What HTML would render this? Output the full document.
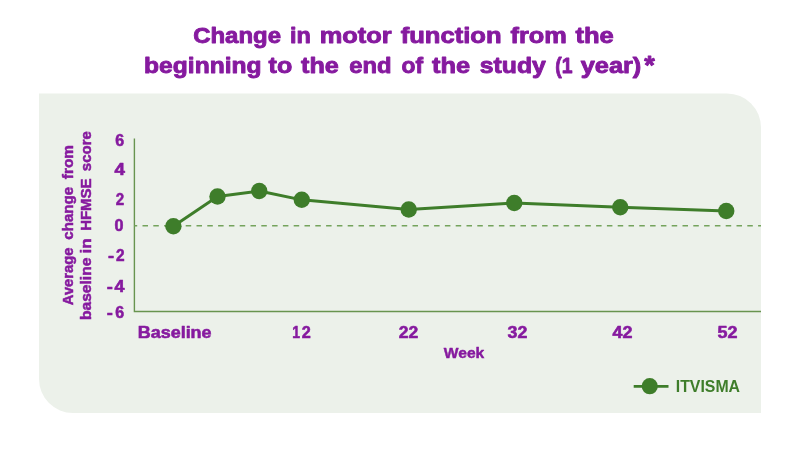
<!DOCTYPE html>
<html lang="en">
<head>
<meta charset="utf-8">
<title>Change in motor function from the beginning to the end of the study</title>
<style>
html,body{margin:0;padding:0;background:#fff;}
body{width:800px;height:453px;overflow:hidden;position:relative;}
svg{display:block;position:absolute;left:0;top:0;}
text{font-family:"Liberation Sans",Arial,Helvetica,sans-serif;font-weight:bold;stroke-linejoin:round;}
.p{fill:#861a9f;stroke:#861a9f;}
.g{fill:#3e7d2a;stroke:#3e7d2a;}
</style>
</head>
<body>
<svg width="800" height="453" viewBox="0 0 800 453">
  <path d="M39 93.5 H727 A34 34 0 0 1 761 127.5 V413 H73 A34 34 0 0 1 39 379 Z" fill="#ecf1ea"/>
  <path d="M134.4 138.5 V311.5 H761" fill="none" stroke="#68944f" stroke-width="1.4"/>
  <path d="M134.4 225.7 H761" fill="none" stroke="#74a35c" stroke-width="1.4" stroke-dasharray="5.5 5.3" stroke-dashoffset="2.7"/>
  <polyline points="173.4,226.2 217.5,196.5 259.25,191 301.75,199.8 408.75,209.5 514.25,203 620.25,207.3 726.25,211" fill="none" stroke="#3e7d2a" stroke-width="2.9" stroke-linejoin="round"/>
  <g fill="#3e7d2a">
    <circle cx="173.4" cy="226.2" r="8.2"/>
    <circle cx="217.5" cy="196.5" r="8.2"/>
    <circle cx="259.25" cy="191" r="8.2"/>
    <circle cx="301.75" cy="199.8" r="8.2"/>
    <circle cx="408.75" cy="209.5" r="8.2"/>
    <circle cx="514.25" cy="203" r="8.2"/>
    <circle cx="620.25" cy="207.3" r="8.2"/>
    <circle cx="726.25" cy="211" r="8.2"/>
  </g>
  <path d="M633.7 386.3 H668.5" stroke="#3e7d2a" stroke-width="2.8" fill="none"/>
  <circle fill="#3e7d2a" cx="649.75" cy="386.2" r="8.1"/>
  <text class="p" font-size="22.4" stroke-width="0.9" y="43"><tspan x="193.2" textLength="87.83" lengthAdjust="spacingAndGlyphs">Change</tspan> <tspan x="290" textLength="20.86" lengthAdjust="spacingAndGlyphs">in</tspan> <tspan x="319.71" textLength="72.01" lengthAdjust="spacingAndGlyphs">motor</tspan> <tspan x="400.7" textLength="100.87" lengthAdjust="spacingAndGlyphs">function</tspan> <tspan x="510.45" textLength="56.38" lengthAdjust="spacingAndGlyphs">from</tspan> <tspan x="575.45" textLength="38.37" lengthAdjust="spacingAndGlyphs">the</tspan></text>
  <text class="p" font-size="22.4" stroke-width="0.9" y="73.3"><tspan x="144.1" textLength="117.44" lengthAdjust="spacingAndGlyphs">beginning</tspan> <tspan x="268.55" textLength="23.66" lengthAdjust="spacingAndGlyphs">to</tspan> <tspan x="301.05" textLength="37.76" lengthAdjust="spacingAndGlyphs">the</tspan> <tspan x="349.2" textLength="42.32" lengthAdjust="spacingAndGlyphs">end</tspan> <tspan x="401.45" textLength="21.55" lengthAdjust="spacingAndGlyphs">of</tspan> <tspan x="431.95" textLength="38.11" lengthAdjust="spacingAndGlyphs">the</tspan> <tspan x="479.85" textLength="66" lengthAdjust="spacingAndGlyphs">study</tspan> <tspan x="555.18" textLength="17.26" lengthAdjust="spacingAndGlyphs">(1</tspan> <tspan x="580.7" textLength="60.62" lengthAdjust="spacingAndGlyphs">year)</tspan><tspan x="644.2" dy="1" font-size="25.5" textLength="10.52" lengthAdjust="spacingAndGlyphs">*</tspan></text>
  <text class="p" font-size="14.8" stroke-width="0.5" transform="translate(72.5 0) rotate(-90)" y="0"><tspan x="-305.15" textLength="57.53" lengthAdjust="spacingAndGlyphs">Average</tspan> <tspan x="-239.65" textLength="52.73" lengthAdjust="spacingAndGlyphs">change</tspan> <tspan x="-179.15" textLength="34.16" lengthAdjust="spacingAndGlyphs">from</tspan></text>
  <text class="p" font-size="14.8" stroke-width="0.5" transform="translate(91.3 0) rotate(-90)" y="0"><tspan x="-320" textLength="62.39" lengthAdjust="spacingAndGlyphs">baseline</tspan> <tspan x="-253.51" textLength="15.31" lengthAdjust="spacingAndGlyphs">in</tspan> <tspan x="-230.85" textLength="52.37" lengthAdjust="spacingAndGlyphs">HFMSE</tspan> <tspan x="-171.15" textLength="40.03" lengthAdjust="spacingAndGlyphs">score</tspan></text>
  <text class="p" font-size="16.2" stroke-width="0.55" y="337.5"><tspan x="137.66" textLength="73.96" lengthAdjust="spacingAndGlyphs">Baseline</tspan></text>
  <text class="p" font-size="15.9" stroke-width="0.55" y="337.6"><tspan x="292.29" textLength="7.79" lengthAdjust="spacingAndGlyphs">1</tspan><tspan x="301.77" textLength="9.03" lengthAdjust="spacingAndGlyphs">2</tspan></text>
  <text class="p" font-size="15.9" stroke-width="0.55" y="337.6"><tspan x="398.77" textLength="19.47" lengthAdjust="spacingAndGlyphs">22</tspan></text>
  <text class="p" font-size="15.9" stroke-width="0.55" y="337.6"><tspan x="507.52" textLength="19.77" lengthAdjust="spacingAndGlyphs">32</tspan></text>
  <text class="p" font-size="15.9" stroke-width="0.55" y="337.6"><tspan x="612.57" textLength="19.97" lengthAdjust="spacingAndGlyphs">42</tspan></text>
  <text class="p" font-size="15.9" stroke-width="0.55" y="337.6"><tspan x="717.57" textLength="19.97" lengthAdjust="spacingAndGlyphs">52</tspan></text>
  <text class="p" font-size="14.4" stroke-width="0.45" y="357.8"><tspan x="443.83" textLength="40.47" lengthAdjust="spacingAndGlyphs">Week</tspan></text>
  <text class="g" font-size="16.1" stroke-width="0" y="392"><tspan x="675.77" textLength="64.26" lengthAdjust="spacingAndGlyphs">ITVISMA</tspan></text>
  <text class="p" font-size="15.9" stroke-width="0.55" y="146.1"><tspan x="115.18" textLength="8.89" lengthAdjust="spacingAndGlyphs">6</tspan></text>
  <text class="p" font-size="15.9" stroke-width="0.55" y="174.8"><tspan x="114.58" textLength="10.46" lengthAdjust="spacingAndGlyphs">4</tspan></text>
  <text class="p" font-size="15.9" stroke-width="0.55" y="204.7"><tspan x="115.68" textLength="8.4" lengthAdjust="spacingAndGlyphs">2</tspan></text>
  <text class="p" font-size="15.9" stroke-width="0.55" y="231.3"><tspan x="114.58" textLength="8.98" lengthAdjust="spacingAndGlyphs">0</tspan></text>
  <text class="p" font-size="15.9" stroke-width="0.55" y="261.4"><tspan x="107.98" textLength="6.09" lengthAdjust="spacingAndGlyphs">-</tspan><tspan x="115.88" textLength="8.59" lengthAdjust="spacingAndGlyphs">2</tspan></text>
  <text class="p" font-size="15.9" stroke-width="0.55" y="291.6"><tspan x="106.68" textLength="6.09" lengthAdjust="spacingAndGlyphs">-</tspan><tspan x="114.48" textLength="9.97" lengthAdjust="spacingAndGlyphs">4</tspan></text>
  <text class="p" font-size="15.9" stroke-width="0.55" y="317.7"><tspan x="106.88" textLength="6.09" lengthAdjust="spacingAndGlyphs">-</tspan><tspan x="115.28" textLength="8.89" lengthAdjust="spacingAndGlyphs">6</tspan></text>
</svg>
</body>
</html>
